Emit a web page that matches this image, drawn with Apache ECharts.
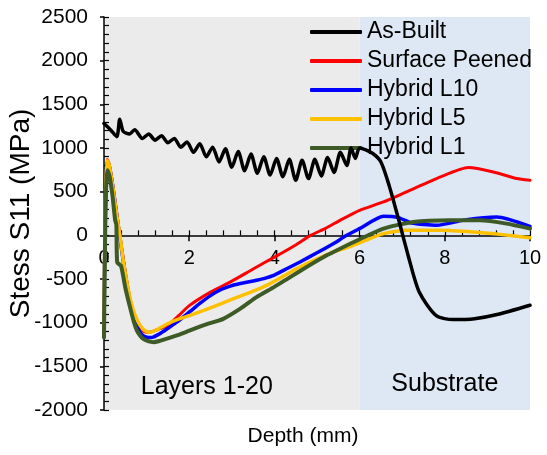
<!DOCTYPE html>
<html>
<head>
<meta charset="utf-8">
<script src="https://cdn.jsdelivr.net/npm/echarts@6/dist/echarts.min.js"></script>
<style>
    html,body{margin:0;padding:0;background:#fff;}
    #chart{width:547px;height:455px;}
</style>
</head>
<body>
<div id="chart"></div>
<script>
    // 数据 (depth mm, stress MPa)
    var seriesNames = ['As-Built', 'Surface Peened', 'Hybrid L10', 'Hybrid L5', 'Hybrid L1'];
    var xTicks = [0, 2, 4, 6, 8, 10];
    var yTicks = [-2000, -1500, -1000, -500, 0, 500, 1000, 1500, 2000, 2500];
    var zones = [['Layers 1-20', 0, 6], ['Substrate', 6, 10]];

    var asBuilt = [
        [0,1280],[0.15,1210],[0.3,1130],[0.37,1330],[0.45,1190],[0.6,1160],[0.72,1210],[0.9,1110],
        [1.05,1160],[1.2,1090],[1.35,1140],[1.5,1060],[1.65,1110],[1.8,1010],[1.95,1070],[2.1,950],
        [2.25,1050],[2.4,900],[2.55,1010],[2.7,840],[2.85,990],[3.0,780],[3.15,960],[3.3,740],
        [3.45,930],[3.6,710],[3.75,900],[3.9,690],[4.05,880],[4.2,670],[4.35,870],[4.5,630],
        [4.65,860],[4.8,650],[4.95,870],[5.1,680],[5.25,890],[5.4,720],[5.55,950],[5.7,800],
        [5.8,1000],[5.9,880],[6.0,1000],[6.3,940],[6.5,840],[6.7,560],[6.9,210],[7.15,-250],
        [7.4,-650],[7.8,-920],[8.2,-965],[8.7,-955],[9.2,-910],[10,-800]
    ];
    var surfacePeened = [
        [0,-1100],[0.03,300],[0.07,870],[0.12,820],[0.2,600],[0.3,250],[0.4,-100],[0.5,-420],
        [0.6,-700],[0.7,-900],[0.8,-1030],[0.9,-1090],[1.0,-1110],[1.1,-1105],[1.3,-1070],[1.5,-1030],
        [1.75,-920],[2.0,-805],[2.5,-650],[3.0,-525],[3.5,-385],[4.0,-250],[4.5,-110],[4.85,0],
        [5.2,80],[5.54,172],[6.0,287],[6.56,382],[7.1,497],[7.9,669],[8.55,776],[9.14,726],
        [9.69,650],[10,631]
    ];
    var hybridL10 = [
        [0,-1150],[0.03,300],[0.07,850],[0.12,800],[0.2,580],[0.3,230],[0.4,-120],[0.5,-450],
        [0.6,-740],[0.7,-940],[0.8,-1070],[0.9,-1140],[1.0,-1165],[1.12,-1170],[1.3,-1130],[1.5,-1065],
        [1.75,-980],[2.0,-880],[2.25,-780],[2.5,-690],[2.75,-620],[3.0,-575],[3.2,-552],[3.5,-522],
        [3.75,-495],[4.0,-455],[4.3,-380],[4.6,-305],[5.0,-200],[5.38,-96],[5.7,0],[6.0,77],
        [6.56,218],[6.91,203],[7.22,141],[7.81,115],[8.51,180],[9.22,210],[10,103]
    ];
    var hybridL5 = [
        [0,-1100],[0.03,350],[0.07,860],[0.12,810],[0.2,580],[0.3,230],[0.38,-20],[0.45,-280],
        [0.53,-516],[0.6,-700],[0.69,-860],[0.77,-960],[0.85,-1032],[0.95,-1090],[1.08,-1110],[1.2,-1090],
        [1.35,-1050],[1.5,-1010],[1.75,-960],[2.02,-917],[2.5,-830],[3.04,-726],[3.5,-640],[3.82,-573],
        [4.2,-470],[4.6,-363],[5.0,-270],[5.38,-191],[5.7,-140],[6.0,-85],[6.56,19],[7.1,57],
        [7.9,57],[8.67,38],[9.3,11],[10,-27]
    ];
    var hybridL1 = [
        [0,-1170],[0.02,-200],[0.05,550],[0.08,745],[0.13,680],[0.2,450],[0.26,180],[0.29,120],
        [0.31,-310],[0.4,-350],[0.5,-600],[0.61,-822],[0.7,-990],[0.77,-1089],[0.85,-1150],[0.92,-1185],
        [1.05,-1215],[1.16,-1223],[1.3,-1210],[1.5,-1180],[1.75,-1140],[2.02,-1089],[2.4,-1020],[2.8,-956],
        [3.2,-840],[3.58,-707],[4.0,-590],[4.37,-478],[4.8,-350],[5.23,-229],[5.54,-153],[6.0,-45],
        [6.56,77],[7.26,153],[8.12,172],[8.83,172],[9.45,134],[10,77]
    ];

    var FONT = '"Liberation Sans", Arial, sans-serif';
    var chart = echarts.init(document.getElementById('chart'), null, {renderer: 'canvas'});

    function lineSeries(name, data, color, width, z, smooth) {
        return {
            name: name, type: 'line', data: data, symbol: 'none', smooth: smooth,
            z: z, lineStyle: {color: color, width: width, cap: 'round', join: 'round'},
            itemStyle: {color: color}
        };
    }

    var option = {
        animation: false,
        grid: {left: 104, right: 17, top: 17, bottom: 45, containLabel: false, outerBoundsMode: 'none'},
        legend: {
            data: seriesNames, orient: 'vertical', left: 310, top: 20, padding: 0,
            itemWidth: 52, itemHeight: 4, itemGap: 5, icon: 'roundRect',
            textStyle: {fontFamily: FONT, fontSize: 23, color: '#000', lineHeight: 24}
        },
        xAxis: [{
            type: 'value', min: 0, max: 10, interval: 2, position: 'bottom', z: 1,
            axisLine: {onZero: false, lineStyle: {color: '#000', width: 1.5}},
            axisTick: {inside: false, length: 6, lineStyle: {color: '#000', width: 1.5}},
            axisLabel: {margin: 13, fontFamily: FONT, fontSize: 20, color: '#000',
                customValues: xTicks},
            splitLine: {show: false}
        }, {
            // 次刻度 (inside)
            type: 'value', min: 0, max: 10, interval: 0.4, position: 'bottom', z: 1,
            axisLine: {show: false, onZero: false},
            axisTick: {inside: true, length: 5, lineStyle: {color: '#000', width: 1.2}},
            axisLabel: {show: false}, splitLine: {show: false}
        }],
        yAxis: [{
            type: 'value', min: -2000, max: 2500, interval: 500, position: 'left', z: 1,
            name: 'Stess S11 (MPa)', nameLocation: 'middle', nameGap: 69, nameRotate: 90,
            nameMoveOverlap: false,
            nameTextStyle: {fontFamily: FONT, fontSize: 28, color: '#000'},
            axisLine: {onZero: false, lineStyle: {color: '#000', width: 1.5}},
            axisTick: {inside: false, length: 4, lineStyle: {color: '#000', width: 1.5}},
            axisLabel: {margin: 16, fontFamily: FONT, fontSize: 21, color: '#000',
                customValues: yTicks, formatter: function (v) { return String(v); }},
            splitLine: {show: false}
        }, {
            type: 'value', min: -2000, max: 2500, interval: 100, position: 'left', z: 1,
            axisLine: {show: false, onZero: false},
            axisTick: {inside: true, length: 5, lineStyle: {color: '#000', width: 1.2}},
            axisLabel: {show: false}, splitLine: {show: false}
        }],
        graphic: [
            {type: 'text', x: 303, y: 426, z: 100,
                style: {text: 'Depth (mm)', fontFamily: FONT, fontSize: 21, fill: '#000', align: 'center'}}
        ],
        series: [
            {
                name: 'zones', type: 'line', data: [], symbol: 'none', z: 0, silent: true,
                markArea: {
                    silent: true,
                    label: {position: 'insideBottom', distance: 10, fontFamily: FONT, fontSize: 25, color: '#000'},
                    data: [
                        [{name: zones[0][0], xAxis: zones[0][1], itemStyle: {color: '#EBEBEB'},
                            label: {offset: [-25, 0]}}, {xAxis: zones[0][2]}],
                        [{name: zones[1][0], xAxis: zones[1][1], itemStyle: {color: '#DDE8F4'},
                            label: {offset: [0, -3]}}, {xAxis: zones[1][2]}]
                    ]
                }
            },
            lineSeries(seriesNames[1], surfacePeened, '#FF0000', 3, 2, 0.2),
            lineSeries(seriesNames[2], hybridL10, '#0000FF', 3.5, 3, 0.2),
            lineSeries(seriesNames[3], hybridL5, '#FFC000', 3.5, 4, 0.2),
            lineSeries(seriesNames[4], hybridL1, '#3D5A27', 4, 5, 0.2),
            lineSeries(seriesNames[0], asBuilt, '#000000', 3.5, 6, 0.25)
        ]
    };
    chart.setOption(option);

    // x轴放到 y=0 处
    var yZero = chart.convertToPixel({yAxisIndex: 0}, 0);
    var yMin = chart.convertToPixel({yAxisIndex: 0}, -2000);
    var off = yZero - yMin;
    chart.setOption({xAxis: [{offset: off}, {offset: off}]});
</script>
</body>
</html>
